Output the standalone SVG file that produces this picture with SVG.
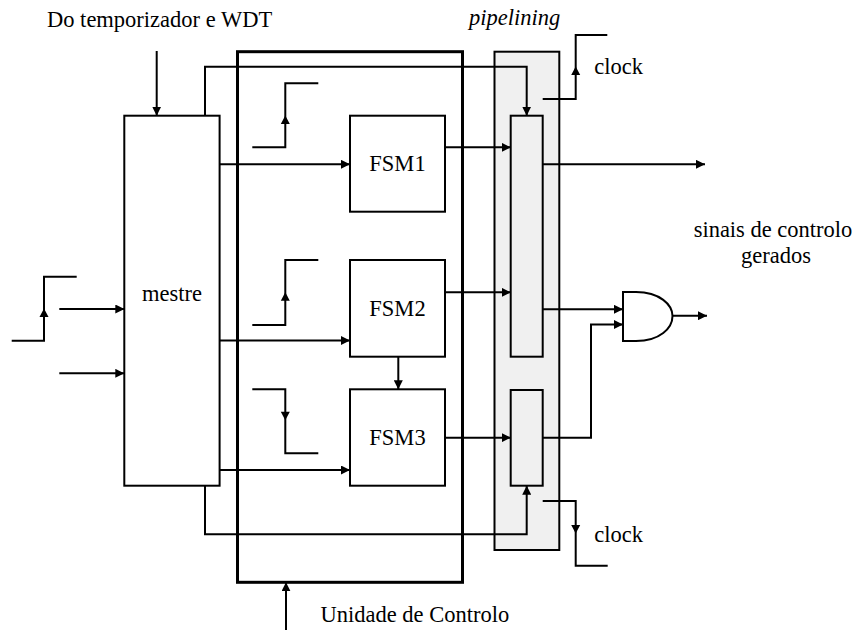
<svg xmlns="http://www.w3.org/2000/svg" width="855" height="630" viewBox="0 0 855 630">
<defs>
<style>
.t{font-size:22.5px;fill:#000}
.i{font-style:italic}
.ln{fill:none;stroke:#000;stroke-width:2}
.box{fill:#fff;stroke:#000;stroke-width:2}
.reg{fill:#f0f0f0;stroke:#000;stroke-width:2}
.ah{fill:#000;stroke:none}
</style>
<marker id="arr" viewBox="0 0 10 10" refX="10" refY="5" markerWidth="9" markerHeight="9" markerUnits="userSpaceOnUse" orient="auto">
<path d="M0,0 L10,5 L0,10 z" fill="#000"/>
</marker>
</defs>
<rect width="855" height="630" fill="#fff"/>
<g font-family="'Liberation Serif', 'Times New Roman', Times, serif">

<g id="unidade">
<rect x="237.5" y="51.7" width="225" height="530.6" fill="none" stroke="#000" stroke-width="3"/>
<text class="t" x="320.5" y="621.5">Unidade de Controlo</text>
</g>

<g id="pipeline">
<rect x="494.5" y="51.7" width="64.8" height="498.3" class="reg"/>
<text class="t i" x="469" y="25">pipelining</text>
</g>

<g id="mestre">
<rect x="124.3" y="115.7" width="95.3" height="370" class="box"/>
<text class="t" x="172" y="300.5" text-anchor="middle">mestre</text>
</g>

<g id="fsm1">
<rect x="350" y="115.7" width="95" height="96" class="box"/>
<text class="t" x="397.5" y="170.7" text-anchor="middle">FSM1</text>
</g>
<g id="fsm2">
<rect x="350" y="260" width="95" height="96.7" class="box"/>
<text class="t" x="397.5" y="315.5" text-anchor="middle">FSM2</text>
</g>
<g id="fsm3">
<rect x="350" y="389.3" width="95" height="96.4" class="box"/>
<text class="t" x="397.5" y="444.5" text-anchor="middle">FSM3</text>
</g>

<g id="connectors">
<path class="ln" d="M205,115.7 V66.7 H526.7 V115.7" marker-end="url(#arr)"/>
<path class="ln" d="M205,485.7 V534.3 H526.7 V485.7" marker-end="url(#arr)"/>
<path class="ln" d="M156.7,51 V115.7" marker-end="url(#arr)"/>
<path class="ln" d="M286,630 V582.3" marker-end="url(#arr)"/>
<path class="ln" d="M59.3,309 H124.3" marker-end="url(#arr)"/>
<path class="ln" d="M59.3,373.3 H124.3" marker-end="url(#arr)"/>
<path class="ln" d="M219.6,164.3 H350" marker-end="url(#arr)"/>
<path class="ln" d="M219.6,340.5 H350" marker-end="url(#arr)"/>
<path class="ln" d="M219.6,470 H350" marker-end="url(#arr)"/>
<path class="ln" d="M398.3,356.7 V389.3" marker-end="url(#arr)"/>
<path class="ln" d="M445,147.3 H510.7" marker-end="url(#arr)"/>
<path class="ln" d="M445,292.3 H510.7" marker-end="url(#arr)"/>
<path class="ln" d="M445,437.7 H510.7" marker-end="url(#arr)"/>
<path class="ln" d="M542.7,164.3 H705" marker-end="url(#arr)"/>
<path class="ln" d="M542.7,309.3 H623" marker-end="url(#arr)"/>
<path class="ln" d="M542.7,437.7 H591 V324.5 H623" marker-end="url(#arr)"/>
<path class="ln" d="M672.5,315.7 H707" marker-end="url(#arr)"/>
<path class="ln" d="M11.7,340.7 H44 V276.7 H76.7"/>
<polygon class="ah" points="44,308.5 39.5,317 48.5,317"/>
<path class="ln" d="M252.3,147.3 H285.3 V83.3 H318.3"/>
<polygon class="ah" points="285.3,115.5 280.8,124 289.8,124"/>
<path class="ln" d="M252.3,325 H285.3 V260 H318.3"/>
<polygon class="ah" points="285.3,292.3 280.8,300.8 289.8,300.8"/>
<path class="ln" d="M252.3,389.3 H285.3 V453.3 H318.3"/>
<polygon class="ah" points="285.3,420.3 280.8,411.8 289.8,411.8"/>
<path class="ln" d="M542.7,99 H575.7 V35 H607.3"/>
<polygon class="ah" points="575.7,66.5 571.2,75 580.2,75"/>
<path class="ln" d="M542.7,501 H575.7 V565.7 H607.7"/>
<polygon class="ah" points="575.7,533.5 571.2,525 580.2,525"/>
</g>

<g id="reg1">
<rect x="510.7" y="115.7" width="32" height="241" class="reg"/>
</g>
<g id="reg2">
<rect x="510.7" y="390" width="32" height="95.7" class="reg"/>
</g>

<g id="and">
<path d="M623,292 H636 C660,292 672.5,305 672.5,316 C672.5,328 660,341 636,341 H623 Z" fill="#fff" stroke="#000" stroke-width="2"/>
</g>

<g id="labels">
<text class="t" x="47" y="27">Do temporizador e WDT</text>
<text class="t" x="594.3" y="74">clock</text>
<text class="t" x="594.3" y="541.5">clock</text>
<text class="t" x="773" y="236.7" text-anchor="middle">sinais de controlo</text>
<text class="t" x="776" y="263.3" text-anchor="middle">gerados</text>
</g>
</g>
</svg>
